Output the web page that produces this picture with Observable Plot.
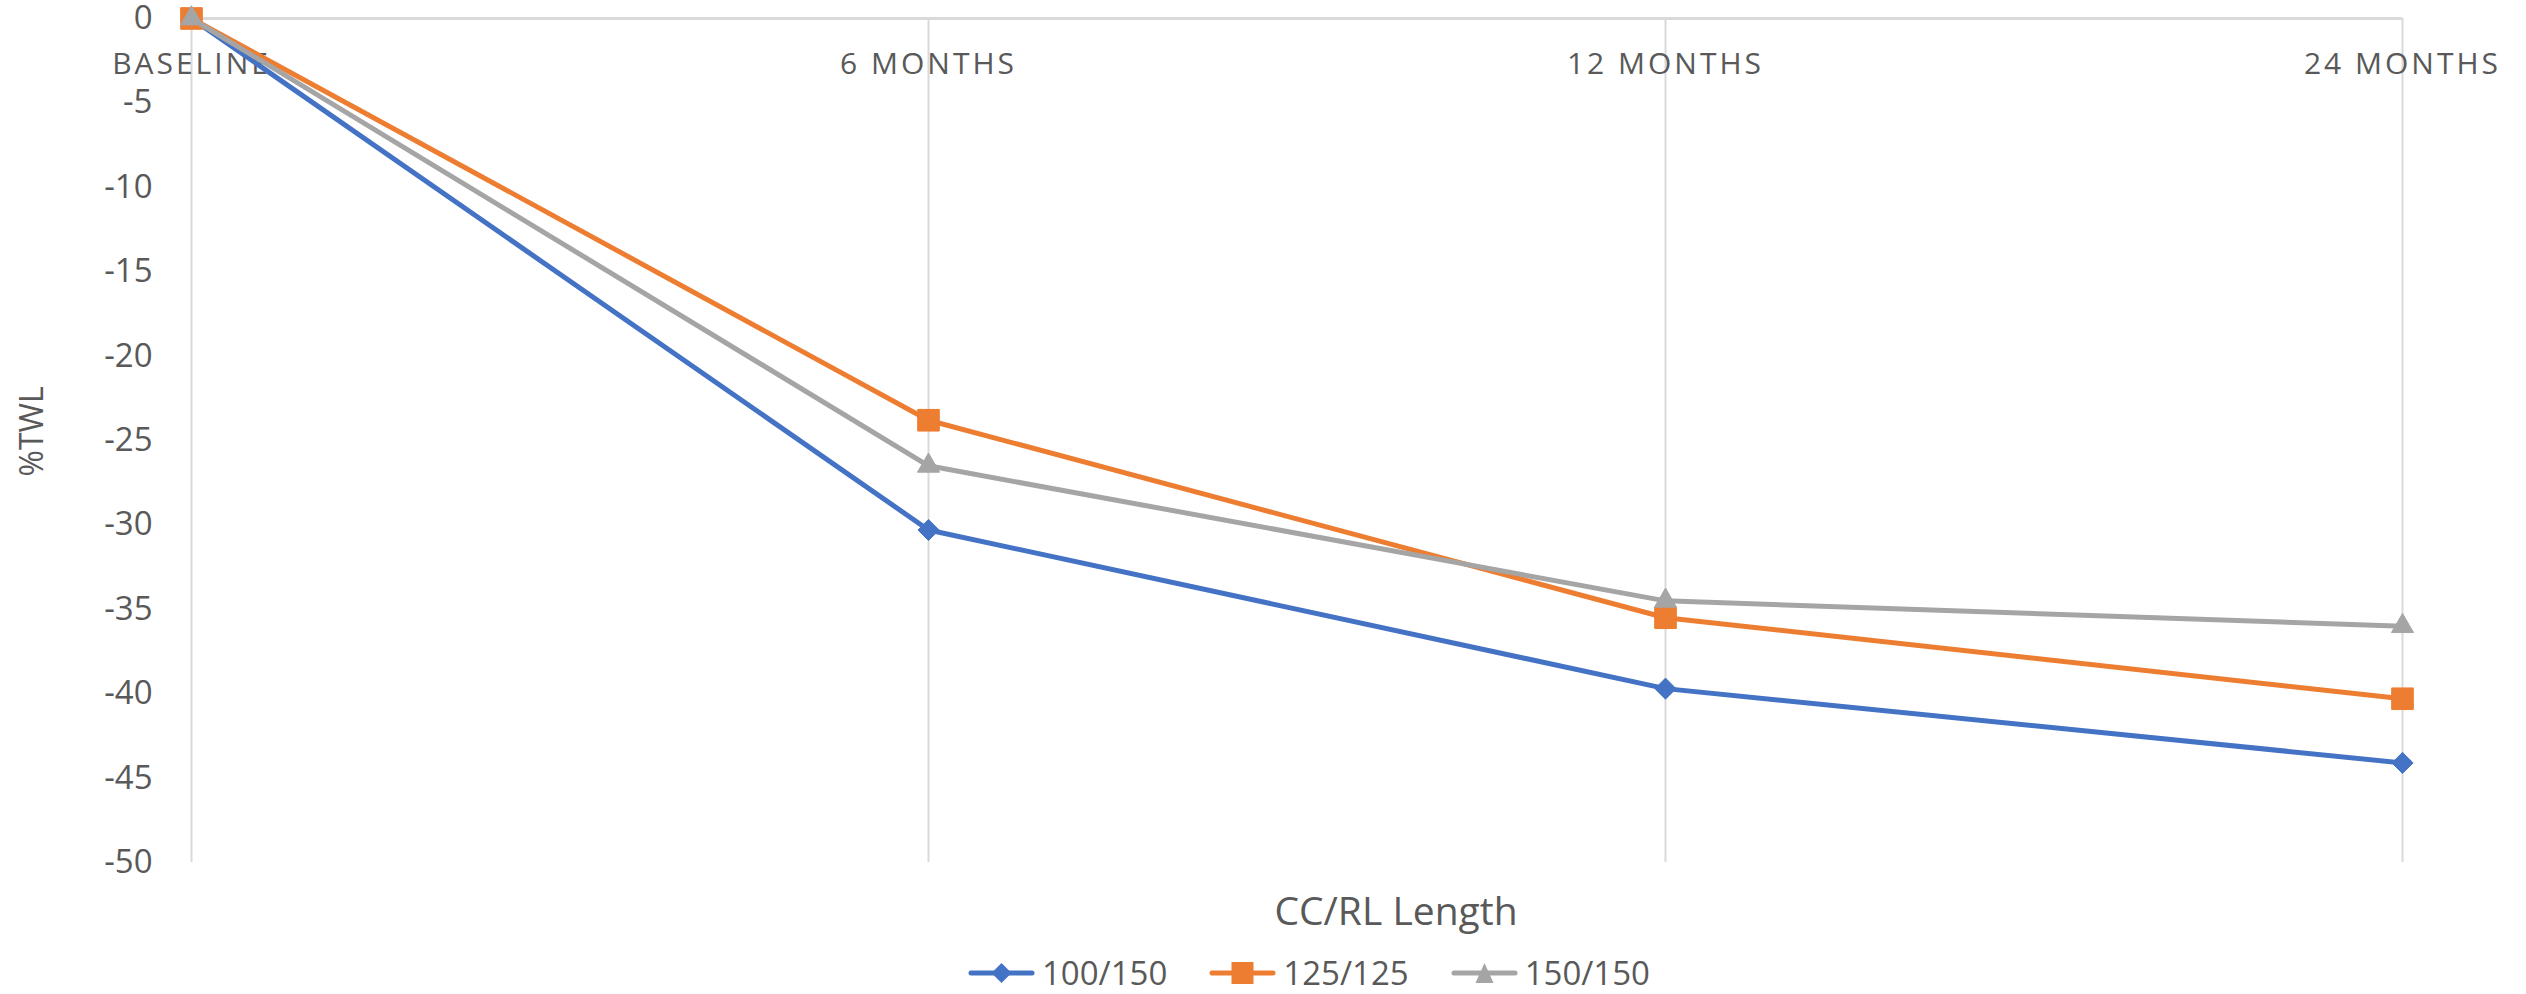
<!DOCTYPE html>
<html>
<head>
<meta charset="utf-8">
<script src="https://cdn.jsdelivr.net/npm/d3@7"></script>
<script src="https://cdn.jsdelivr.net/npm/@observablehq/plot@0.6"></script>
<style>
  html, body { margin: 0; padding: 0; background: #fff; }
  body { width: 2526px; height: 994px; position: relative; overflow: hidden; font-family: "Open Sans", sans-serif; color: #595959; }
  #chart { position: absolute; left: 0; top: 0; }
  g[aria-label="x-axis tick label"] text { letter-spacing: 3px; }
  #xtitle { position: absolute; top: 883px; left: 1396px; transform: translateX(-50%); font-size: 39px; line-height: normal; white-space: nowrap; }
  #legend { position: absolute; top: 950px; left: 968px; display: flex; align-items: center; font-size: 33px; line-height: normal; white-space: nowrap; }
  .item { display: flex; align-items: center; margin-right: 42px; }
  .item svg { margin-right: 7px; }
</style>
</head>
<body>
<div id="chart"></div>
<div id="xtitle">CC/RL Length</div>
<div id="legend"></div>
<script>
// ---- data ----
const categories = ["BASELINE", "6 MONTHS", "12 MONTHS", "24 MONTHS"];
const seriesNames = ["100/150", "125/125", "150/150"];
const values100_150 = [0, -30.3, -39.7, -44.1];
const values125_125 = [0, -23.8, -35.5, -40.3];
const values150_150 = [0, -26.5, -34.5, -36.0];
const yTicks = [0, -5, -10, -15, -20, -25, -30, -35, -40, -45, -50];
const yLabel = "%TWL";

// ---- styles ----
const colors = ["#4472C4", "#ED7D31", "#A5A5A5"];
const symbols = ["diamond2", "square", "triangle"];
const radii = [9.5, 12.2, 8.2];

const seriesValues = [values100_150, values125_125, values150_150];
const rows = [];
seriesNames.forEach((s, i) => categories.forEach((c, j) => rows.push({series: s, cat: c, value: seriesValues[i][j]})));

const seriesMarks = [];
seriesNames.forEach((s, i) => {
  const d = rows.filter(r => r.series === s);
  seriesMarks.push(Plot.line(d, {x: "cat", y: "value", stroke: colors[i], strokeWidth: 5, strokeLinejoin: "round"}));
  seriesMarks.push(Plot.dot(d, {x: "cat", y: "value", symbol: symbols[i], r: radii[i], fill: colors[i], stroke: colors[i], strokeWidth: 1}));
});

const chart = Plot.plot({
  width: 2526,
  height: 880,
  marginTop: 18,
  marginBottom: 18,
  marginLeft: 190,
  marginRight: 124,
  style: {fontFamily: "Open Sans, sans-serif", fontSize: "33px", color: "#595959", background: "white"},
  x: {type: "point", domain: categories, padding: 0},
  y: {domain: [-50, 0]},
  marks: [
    Plot.ruleX(categories, {x: d => d, y1: 0, y2: -50, stroke: "#d9d9d9", strokeWidth: 2}),
    Plot.ruleY([0], {stroke: "#d9d9d9", strokeWidth: 3}),
    Plot.axisY({ticks: yTicks, tickSize: 0, tickPadding: 38, label: null, fontSize: 33, tickFormat: d => String(d)}),
    Plot.axisX({anchor: "top", tickSize: 0, tickPadding: -55, label: null, fontSize: 30}),
    Plot.text([yLabel], {frameAnchor: "left", dx: -158, dy: 36, rotate: -90, fontSize: 32, fill: "#595959"}),
    ...seriesMarks
  ]
});
document.getElementById("chart").appendChild(chart);

// ---- legend ----
const legend = document.getElementById("legend");
const shapes = [
  '<polygon points="33.5,1 43.5,11 33.5,21 23.5,11" />',
  '<rect x="22.5" y="0" width="22" height="22" />',
  '<polygon points="33.5,1 42.5,21 24.5,21" />'
];
seriesNames.forEach((s, i) => {
  const item = document.createElement("div");
  item.className = "item";
  item.innerHTML = `<svg width="67" height="22"><line x1="3" y1="11" x2="64" y2="11" stroke="${colors[i]}" stroke-width="5" stroke-linecap="round"/><g fill="${colors[i]}">${shapes[i]}</g></svg><span>${s}</span>`;
  legend.appendChild(item);
});
</script>
</body>
</html>
